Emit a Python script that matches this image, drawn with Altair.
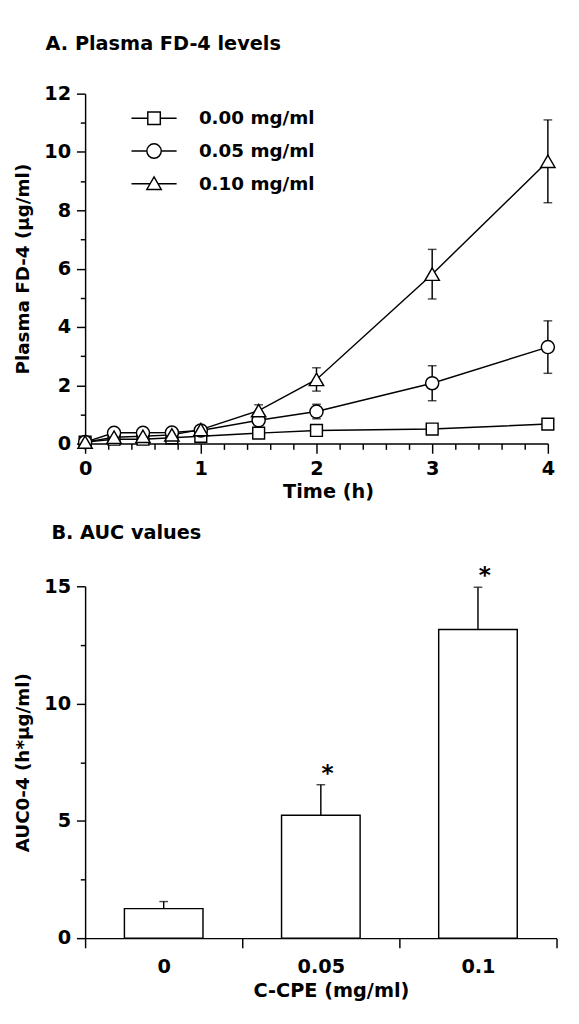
import altair as alt
import pandas as pd

# ---------------- Panel A data ----------------
times = [0, 0.25, 0.5, 0.75, 1, 1.5, 2, 3, 4]
series_names = ["0.00 mg/ml", "0.05 mg/ml", "0.10 mg/ml"]
fd4_000 = [0.05, 0.15, 0.15, 0.2, 0.25, 0.36, 0.45, 0.5, 0.67]
fd4_000_sd = [0, 0, 0, 0, 0, 0, 0, 0, 0]
fd4_005 = [0.05, 0.37, 0.37, 0.38, 0.45, 0.8, 1.1, 2.07, 3.31]
fd4_005_sd = [0, 0, 0, 0, 0, 0.1, 0.25, 0.6, 0.9]
fd4_010 = [0.05, 0.22, 0.25, 0.3, 0.48, 1.13, 2.2, 5.81, 9.68]
fd4_010_sd = [0, 0, 0, 0, 0, 0.2, 0.4, 0.85, 1.42]

y_major_a = [0, 2, 4, 6, 8, 10, 12]
y_minor_a = [1, 3, 5, 7, 9, 11]
x_major_a = [0, 1, 2, 3, 4]
x_minor_a = [0.2, 0.4, 0.6, 0.8, 1.2, 1.4, 1.6, 1.8, 2.2, 2.4, 2.6, 2.8, 3.2, 3.4, 3.6, 3.8]

# ---------------- Panel B data ----------------
doses = ["0", "0.05", "0.1"]
auc = [1.26, 5.24, 13.16]
auc_sd = [0.3, 1.3, 1.8]
sig = ["", "*", "*"]
y_major_b = [0, 5, 10, 15]
y_minor_b = [2.5, 7.5, 12.5]

# legend symbols: marker with a line through it
legend_paths = [
    "M-3.6,0H-1M1,0H3.6M-1,-1H1V1H-1Z",
    "M-3.6,0H-1.15M1.15,0H3.6M-1.15,0A1.15,1.15 0 1,1 1.15,0A1.15,1.15 0 1,1 -1.15,0Z",
    "M-3.6,0H-0.63M0.63,0H3.6M0,-1.1L1.15,0.9H-1.15Z",
]

rows = []
for name, vals, sds in zip(series_names, [fd4_000, fd4_005, fd4_010],
                           [fd4_000_sd, fd4_005_sd, fd4_010_sd]):
    for t, v, s in zip(times, vals, sds):
        rows.append({"t": t, "v": v, "sd": s, "series": name})
dfA = pd.DataFrame(rows)

BLACK = "black"
LW = 1.5

xA_scale = alt.Scale(domain=[0, 4], nice=False)
yA_scale = alt.Scale(domain=[0, 12], nice=False)

baseA = alt.Chart(dfA).transform_calculate(
    lo="datum.v - datum.sd", hi="datum.v + datum.sd"
)

linesA = baseA.mark_line(color=BLACK, strokeWidth=LW).encode(
    x=alt.X("t:Q", scale=xA_scale,
            axis=alt.Axis(values=x_major_a, title="Time (h)", tickSize=10,
                          labelPadding=6, titlePadding=4, titleX=252,
                          labelFlush=False, orient="bottom", format="d")),
    y=alt.Y("v:Q", scale=yA_scale,
            axis=alt.Axis(values=y_major_a, title="Plasma FD-4 (μg/ml)",
                          tickSize=9, labelPadding=6, titlePadding=12,
                          titleFontSize=19, orient="left")),
    detail="series:N",
)

rulesA = baseA.mark_rule(color=BLACK, strokeWidth=LW).encode(
    x=alt.X("t:Q", scale=xA_scale, axis=None),
    y=alt.Y("lo:Q", scale=yA_scale, axis=None),
    y2="hi:Q",
)
capHiA = baseA.mark_tick(orient="horizontal", size=9, thickness=LW, color=BLACK).encode(
    x=alt.X("t:Q", scale=xA_scale, axis=None),
    y=alt.Y("hi:Q", scale=yA_scale, axis=None),
)
capLoA = baseA.mark_tick(orient="horizontal", size=9, thickness=LW, color=BLACK).encode(
    x=alt.X("t:Q", scale=xA_scale, axis=None),
    y=alt.Y("lo:Q", scale=yA_scale, axis=None),
)

pointsA = baseA.mark_point(filled=True, fill="white", stroke=BLACK,
                           strokeWidth=LW, opacity=1).encode(
    x=alt.X("t:Q", scale=xA_scale, axis=None),
    y=alt.Y("v:Q", scale=yA_scale, axis=None),
    shape=alt.Shape("series:N",
                    scale=alt.Scale(domain=series_names,
                                    range=["square", "circle", "triangle-up"]),
                    legend=None),
    size=alt.Size("series:O",
                  scale=alt.Scale(domain=series_names, range=[150, 220, 200]),
                  legend=None),
)

legendA = baseA.mark_point(opacity=0, size=169, color=BLACK, filled=False).encode(
    x=alt.X("t:Q", scale=xA_scale, axis=None),
    y=alt.Y("v:Q", scale=yA_scale, axis=None),
    shape=alt.Shape("series:N",
                    scale=alt.Scale(domain=series_names, range=legend_paths),
                    legend=alt.Legend(title=None, orient="none",
                                      legendX=62, legendY=16,
                                      symbolSize=169, symbolStrokeWidth=LW,
                                      symbolStrokeColor=BLACK,
                                      symbolFillColor="white",
                                      symbolOpacity=1,
                                      labelFontSize=19, labelFontWeight="bold",
                                      labelColor=BLACK,
                                      labelOffset=37, rowPadding=13)),
)

minorA = baseA.mark_point(opacity=0).encode(
    x=alt.X("t:Q", scale=xA_scale,
            axis=alt.Axis(values=x_minor_a, labels=False, domain=False,
                          tickSize=6, title=None, orient="bottom")),
    y=alt.Y("v:Q", scale=yA_scale,
            axis=alt.Axis(values=y_minor_a, labels=False, domain=False,
                          tickSize=5, title=None, orient="left")),
)

panelA = alt.layer(linesA, rulesA, capHiA, capLoA, pointsA, legendA, minorA).resolve_scale(
    shape="independent", size="independent"
).resolve_axis(x="independent", y="independent").properties(
    width=480, height=363,
    title=alt.TitleParams("A. Plasma FD-4 levels", anchor="start", frame="group",
                          dx=-41, offset=31, fontSize=20, fontWeight="bold",
                          color=BLACK),
)

# ---------------- Panel B ----------------
dfB = pd.DataFrame({"dose": doses, "auc": auc, "sd": auc_sd, "sig": sig})
baseB = alt.Chart(dfB).transform_calculate(hi="datum.auc + datum.sd")
yB_scale = alt.Scale(domain=[0, 15], nice=False)
xB_scale = alt.Scale(paddingInner=0, paddingOuter=0)

barsB = baseB.mark_bar(color="white", stroke=BLACK, strokeWidth=LW,
                       width=alt.RelativeBandSize(0.5)).encode(
    x=alt.X("dose:N", sort=doses, scale=xB_scale,
            axis=alt.Axis(tickBand="extent", labelAngle=0, title="C-CPE (mg/ml)",
                          tickSize=10, labelPadding=10, titlePadding=5,
                          titleX=255, orient="bottom")),
    y=alt.Y("auc:Q", scale=yB_scale,
            axis=alt.Axis(values=y_major_b, title="AUC0-4 (h*μg/ml)",
                          tickSize=9, labelPadding=6, titlePadding=12,
                          titleFontSize=19, orient="left")),
)
ruleB = baseB.mark_rule(color=BLACK, strokeWidth=LW).encode(
    x=alt.X("dose:N", sort=doses, scale=xB_scale, axis=None),
    y=alt.Y("auc:Q", scale=yB_scale, axis=None),
    y2="hi:Q",
)
capB = baseB.mark_tick(orient="horizontal", size=9, thickness=LW, color=BLACK).encode(
    x=alt.X("dose:N", sort=doses, scale=xB_scale, axis=None),
    y=alt.Y("hi:Q", scale=yB_scale, axis=None),
)
starB = baseB.mark_text(fontSize=24, fontWeight="bold", color=BLACK, dx=7, dy=-11,
                        baseline="middle").encode(
    x=alt.X("dose:N", sort=doses, scale=xB_scale, axis=None),
    y=alt.Y("hi:Q", scale=yB_scale, axis=None),
    text="sig:N",
)
minorB = baseB.mark_point(opacity=0).encode(
    x=alt.X("dose:N", sort=doses, scale=xB_scale, axis=None),
    y=alt.Y("auc:Q", scale=yB_scale,
            axis=alt.Axis(values=y_minor_b, labels=False, domain=False,
                          tickSize=5, title=None, orient="left")),
)

panelB = alt.layer(barsB, ruleB, capB, starB, minorB).resolve_axis(
    x="independent", y="independent"
).properties(
    width=489, height=365,
    title=alt.TitleParams("B. AUC values", anchor="start", frame="group",
                          dx=-35, offset=23, fontSize=20, fontWeight="bold",
                          color=BLACK),
)

chart = alt.vconcat(panelA, panelB, spacing=22).properties(
    padding={"left": 6, "top": 9, "right": 0, "bottom": 0}
).configure(
    font="DejaVu Sans"
).configure_axis(
    labelFontSize=20, labelFontWeight="bold", labelColor=BLACK,
    titleFontSize=20, titleFontWeight="bold", titleColor=BLACK,
    domainColor=BLACK, tickColor=BLACK, domainWidth=LW, tickWidth=LW,
    grid=False,
).configure_view(stroke=None)

chart.save("out.html", embed_options={"renderer": "svg", "actions": False})
